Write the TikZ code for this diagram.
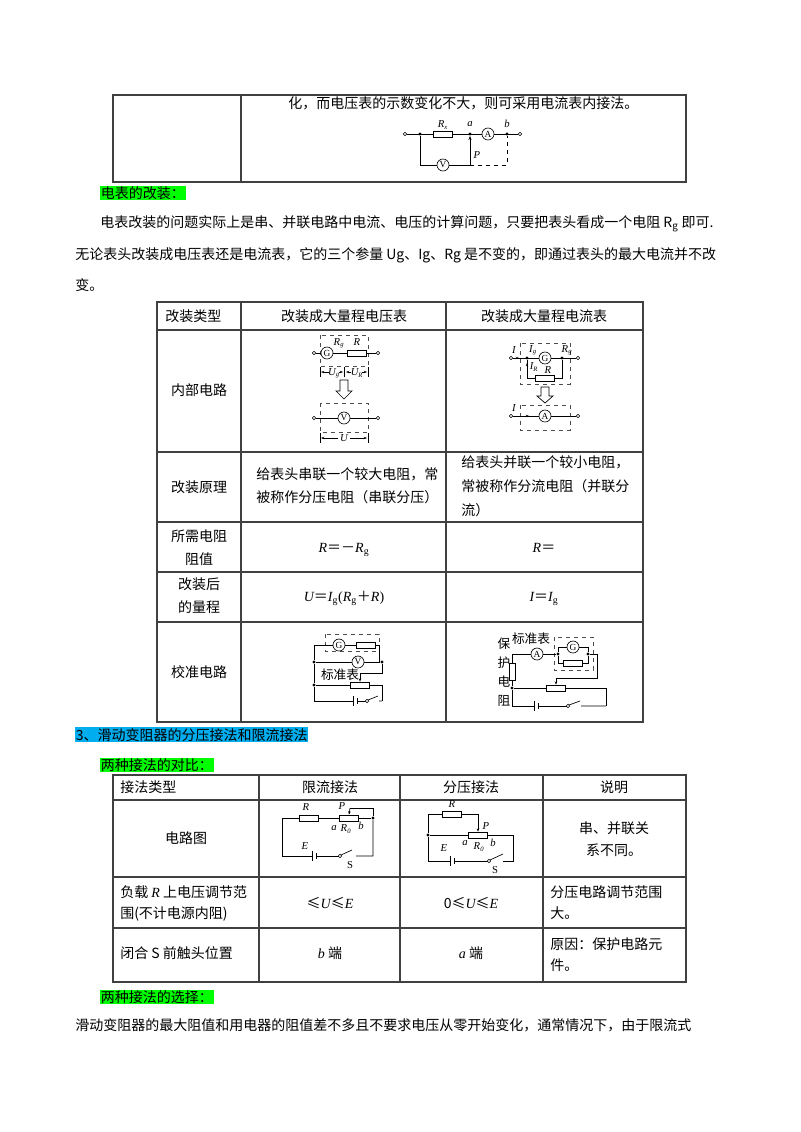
\documentclass[tikz,border=0pt]{standalone}
\usepackage{fontspec}
\setmainfont{Liberation Serif}
\newfontfamily\cjk{Noto Sans CJK SC}
\usetikzlibrary{arrows.meta}
\newcommand\zh{\cjk\fontsize{10.5}{13}\selectfont}
\newcommand\iv[1]{{\rmfamily\itshape #1}}
\newcommand\fw[1]{{\cjk #1}}
\begin{document}
\begin{tikzpicture}[x=0.75pt,y=-0.75pt,
  txt/.style={inner sep=0,font=\zh,anchor=base},
  ltxt/.style={inner sep=0,font=\zh,anchor=base west},
  grid/.style={line width=0.8pt,draw=black!75},
  res/.style={draw,rectangle,minimum width=14pt,minimum height=4.5pt,inner sep=0,line width=0.5pt},
  vres/.style={draw,rectangle,minimum width=4.5pt,minimum height=13pt,inner sep=0,line width=0.5pt},
  meter/.style={draw,circle,minimum size=9pt,inner sep=0,font=\fontsize{7}{7}\selectfont,line width=0.5pt},
  term/.style={draw,circle,minimum size=2.5pt,inner sep=0,fill=white,line width=0.4pt},
  jdot/.style={circle,fill,minimum size=2.5pt,inner sep=0},
  lab/.style={inner sep=0,font=\fontsize{8}{8}\selectfont\itshape},
  w/.style={line width=0.5pt},
  dbox/.style={draw,dashed,line width=0.4pt,black!70},
  hl/.style={inner sep=0.5pt,anchor=base west,font=\zh}
]
\useasboundingbox (0,0) rectangle (800,1132);
\fill[white] (0,0) rectangle (800,1132);

% ===== top table =====
\draw[grid] (113,95) rectangle (686,182);
\draw[grid] (241,95) -- (241,182);
\node[ltxt] (t0) at (288,108) {化，而电压表的示数变化不大，则可采用电流表内接法。};
\node[term] (ta) at (405,134) {};
\node[jdot] (tj1) at (420,134) {};
\node[res] (trx) at (443,134) {};
\node[lab] at (443,125) {R\textsubscript{\fontsize{5}{5}\selectfont x}};
\node[jdot] (tja) at (470,134) {};
\node[lab] at (470,124) {a};
\node[meter] (tA) at (488,134) {A};
\node[lab] at (507,124) {b};
\node[jdot] (tjb) at (507,134) {};
\node[term] (tb) at (520,134) {};
\node[meter] (tV) at (443,165) {V};
\node[lab] at (477,155) {P};
\coordinate (tbl) at (420,165);
\coordinate (tbp) at (470,165);
\coordinate (tbr) at (507,165);
\draw[w] (ta) -- (trx) -- (tA) -- (tb);
\draw[w] (tj1) -- (tbl) -- (tV) -- (tbp);
\draw[w,-{Stealth[length=3pt]}] (tbp) -- (tja);
\draw[w,dashed] (tbp) -- (tbr) -- (tjb);

% ===== section heading =====
\node[hl,fill=green] at (100,198) {电表的改装：};
\node[ltxt] at (100,227) {电表改装的问题实际上是串、并联电路中电流、电压的计算问题，只要把表头看成一个电阻 R\textsubscript{g} 即可.};
\node[ltxt] at (75,259) {无论表头改装成电压表还是电流表，它的三个参量 Ug、Ig、Rg 是不变的，即通过表头的最大电流并不改};
\node[ltxt] at (75,290) {变。};

% ===== table 2 =====
\draw[grid] (157,302) rectangle (643,722);
\foreach \y in {330,452,522,572,622} \draw[grid] (157,\y) -- (643,\y);
\draw[grid] (241,302) -- (241,722);
\draw[grid] (446,302) -- (446,722);
\node[ltxt] at (165,321) {改装类型};
\node[txt] at (344,321) {改装成大量程电压表};
\node[txt] at (544,321) {改装成大量程电流表};
\node[txt] at (199,395) {内部电路};
\node[txt] at (199,492) {改装原理};
\node[ltxt] at (256,479) {给表头串联一个较大电阻，常};
\node[ltxt] at (256,502) {被称作分压电阻（串联分压）};
\node[ltxt] at (461,467) {给表头并联一个较小电阻，};
\node[ltxt] at (461,491) {常被称作分流电阻（并联分};
\node[ltxt] at (461,515) {流）};
\node[txt] at (199,541) {所需电阻};
\node[txt] at (199,564) {阻值};
\node[txt] at (344,552) {\rmfamily\iv{R}\fw{＝－}\iv{R}\textsubscript{g}};
\node[txt] at (544,552) {\rmfamily\iv{R}\fw{＝}};
\node[txt] at (199,589) {改装后};
\node[txt] at (199,612) {的量程};
\node[txt] at (344,601) {\rmfamily\iv{U}\fw{＝}\iv{I}\textsubscript{g}(\iv{R}\textsubscript{g}\fw{＋}\iv{R})};
\node[txt] at (544,601) {\rmfamily\iv{I}\fw{＝}\iv{I}\textsubscript{g}};
\node[txt] at (199,677) {校准电路};

% voltmeter conversion
\draw[dbox] (320,335) rectangle (368,366);
\node[term] (v1) at (314,353) {};
\node[meter] (vG) at (327,353) {G};
\node[res] (vR) at (357,353) {};
\node[term] (v2) at (378,353) {};
\draw[w] (v1) -- (vG) -- (vR) -- (v2);
\node[lab] at (339,343) {R\textsubscript{\fontsize{5}{5}\selectfont g}};
\node[lab] at (357,342) {R};
\draw[w,-{Stealth[length=2.5pt]}] (329,372) -- (321,372);
\node[lab] (vUg) at (334,373) {U\textsubscript{\fontsize{5}{5}\selectfont g}};
\draw[w,-{Stealth[length=2.5pt]}] (339,372) -- (343,372);
\draw[w,-{Stealth[length=2.5pt]}] (351,372) -- (346,372);
\node[lab] (vUR) at (357,373) {U\textsubscript{\fontsize{5}{5}\selectfont R}};
\draw[w,-{Stealth[length=2.5pt]}] (362,372) -- (367,372);
\draw[w] (320,367) -- (320,377) (344,367) -- (344,377) (368,367) -- (368,377);
\draw[w,fill=white] (340,380) -- (348,380) -- (348,391) -- (352,391) -- (344,399) -- (336,391) -- (340,391) -- cycle;
\draw[dbox] (320,403) rectangle (368,432);
\node[term] (v3) at (314,418) {};
\node[meter] (vV) at (344,418) {V};
\node[term] (v4) at (378,418) {};
\draw[w] (v3) -- (vV) -- (v4);
\draw[w] (320,433) -- (320,443) (368,433) -- (368,443);
\node[lab] (vU) at (344,438) {U};
\draw[w,-{Stealth[length=2.5pt]}] (338,438) -- (321,438);
\draw[w,-{Stealth[length=2.5pt]}] (350,438) -- (367,438);

% ammeter conversion
\draw[dbox] (520,343) rectangle (570,384);
\node[term] (a1) at (511,358) {};
\node[jdot] (aj1) at (527,358) {};
\node[meter] (aG) at (545,358) {G};
\node[jdot] (aj2) at (562,358) {};
\node[term] (a2) at (578,358) {};
\node[res] (aR) at (545,378) {};
\draw[w] (a1) -- (aG) -- (a2);
\draw[w] (aj1) -- (527,378) -- (aR) -- (562,378) -- (aj2);
\draw[w,-{Stealth[length=2.5pt]}] (515,358) -- (519,358);
\draw[w,-{Stealth[length=2.5pt]}] (527,370) -- (527,363);
\node[lab] at (514,350) {I};
\node[lab] at (533,350) {I\textsubscript{\fontsize{5}{5}\selectfont g}};
\node[lab] at (567,350) {R\textsubscript{\fontsize{5}{5}\selectfont g}};
\node[lab] at (534,367) {I\textsubscript{\fontsize{5}{5}\selectfont R}};
\node[lab] at (548,370) {R};
\draw[w,fill=white] (541,387) -- (549,387) -- (549,396) -- (553,396) -- (545,403) -- (537,396) -- (541,396) -- cycle;
\draw[dbox] (520,405) rectangle (570,430);
\node[term] (a3) at (511,416) {};
\node[meter] (aA) at (545,416) {A};
\node[term] (a4) at (578,416) {};
\draw[w] (a3) -- (aA) -- (a4);
\draw[w,-{Stealth[length=2.5pt]}] (524,416) -- (529,416);
\node[lab] at (514,408) {I};

% calibration (voltmeter)
\draw[dbox] (325,634) rectangle (379,651);
\node[meter] (cG) at (339,645) {G};
\node[res] (cR) at (366,645) {};
\coordinate (c1) at (314,645);
\coordinate (c2) at (379,645);
\node[jdot] (cj1) at (314,662) {};
\node[jdot] (cj2) at (382,662) {};
\node[meter] (cV) at (358,662) {V};
\node[jdot] (cj3) at (314,685) {};
\node[res] (crh) at (360,685) {};
\coordinate (c3) at (382,685);
\coordinate (c4) at (314,701);
\coordinate (c5) at (382,701);
\draw[w] (cj1) -- (c1) -- (cG) -- (cR) -- (c2) -- (c2|-cj2);
\draw[w] (cj1) -- (cV) -- (cj2);
\draw[w] (cj2) -- (382,673) -- (360,673);
\draw[w,-{Stealth[length=2.5pt]}] (360,673) -- (crh.north);
\draw[w] (cj1) -- (cj3) -- (crh) -- (c3) -- (c5);
\draw[w] (cj3) -- (c4) -- (353,701) (353,696) -- (353,706) (357,698) -- (357,704) (357,701) -- (366,701);
\node[term] (csw) at (367,701) {};
\draw[w] (368,700) -- (378,696) (379,701) -- (c5);
\node[txt,font=\cjk\fontsize{9.5}{10}\selectfont] at (340,679) {标准表};

% calibration (ammeter)
\node[txt,font=\cjk\fontsize{9.5}{10}\selectfont] at (504,648) {保};
\node[txt,font=\cjk\fontsize{9.5}{10}\selectfont] at (504,667) {护};
\node[txt,font=\cjk\fontsize{9.5}{10}\selectfont] at (504,686) {电};
\node[txt,font=\cjk\fontsize{9.5}{10}\selectfont] at (504,705) {阻};
\node[txt,font=\cjk\fontsize{9.5}{10}\selectfont] at (531,643) {标准表};
\node[vres] (dR) at (512,672) {};
\node[meter] (dA) at (537,654) {A};
\draw[dbox] (554,637) rectangle (593,670);
\node[jdot] (dj1) at (558,654) {};
\node[jdot] (dj2) at (588,654) {};
\node[meter] (dG) at (573,647) {G};
\node[res] (dR2) at (573,663) {};
\node[jdot] (dj3) at (512,688) {};
\node[res] (drh) at (556,688) {};
\draw[w] (dR.north) -- (512,654) -- (dA) -- (dj1);
\draw[w] (dj1) -- (558,647) -- (dG) -- (588,647) -- (dj2);
\draw[w] (dj1) -- (558,663) -- (dR2) -- (588,663) -- (dj2);
\draw[w] (dj2) -- (597,654) -- (597,678) -- (556,678);
\draw[w,-{Stealth[length=2.5pt]}] (556,678) -- (drh.north);
\draw[w] (dR.south) -- (dj3) -- (drh) -- (606,688) -- (606,706);
\draw[w] (dj3) -- (512,706) -- (534,706) (534,701) -- (534,711) (538,703) -- (538,709) (538,706) -- (567,706);
\node[term] (dsw) at (568,706) {};
\draw[w] (569,705) -- (580,701) (581,706) -- (606,706);

% ===== section 3 =====
\node[hl,fill=cyan] at (75,740) {3、滑动变阻器的分压接法和限流接法};
\node[hl,fill=green] at (100,770) {两种接法的对比：};

\draw[grid] (113,775) rectangle (686,982);
\foreach \y in {800,877,928} \draw[grid] (113,\y) -- (686,\y);
\foreach \x in {259,400,543} \draw[grid] (\x,775) -- (\x,982);
\node[ltxt] at (120,792) {接法类型};
\node[txt] at (330,792) {限流接法};
\node[txt] at (471,792) {分压接法};
\node[txt] at (614,792) {说明};
\node[txt] at (186,843) {电路图};
\node[txt] at (614,833) {串、并联关};
\node[txt] at (614,855) {系不同。};
\node[ltxt] at (120,897) {负载 \iv{R} 上电压调节范};
\node[ltxt] at (120,918) {围(不计电源内阻)};
\node[txt] at (330,908) {≤\iv{U}≤\iv{E}};
\node[txt] at (471,908) {0≤\iv{U}≤\iv{E}};
\node[ltxt] at (550,897) {分压电路调节范围};
\node[ltxt] at (550,918) {大。};
\node[ltxt] at (120,958) {闭合 S 前触头位置};
\node[txt] at (330,958) {\iv{b} 端};
\node[txt] at (471,958) {\iv{a} 端};
\node[ltxt] at (550,949) {原因：保护电路元};
\node[ltxt] at (550,970) {件。};

% limiting circuit
\node[res] (lR) at (309,818) {};
\node[res] (lR0) at (349,818) {};
\node[jdot] (lj) at (373,818) {};
\draw[w] (lR0.east) -- (lj);
\draw[w] (lR) -- (lR0);
\draw[w] (lR.west) -- (282,818) -- (282,856) -- (312,856) (312,851) -- (312,861) (316,853) -- (316,859) (316,856) -- (339,856);
\node[term] (lsw) at (340,856) {};
\draw[w] (341,855) -- (352,850) (356,856) -- (373,856) -- (lj);
\draw[w] (lj) -- (373,808) -- (350,808);
\draw[w,-{Stealth[length=2.5pt]}] (350,808) -- (lR0.north);
\node[lab] at (306,807) {R};
\node[lab] at (342,806) {P};
\node[lab] at (334,828) {a};
\node[lab] at (346,829) {R\textsubscript{\fontsize{5}{5}\selectfont 0}};
\node[lab] at (361,826) {b};
\node[lab] at (305,846) {E};
\node[inner sep=0,font=\fontsize{8}{8}\selectfont] at (350,865) {S};

% divider circuit
\node[res] (pR) at (452,814) {};
\node[res] (pR0) at (478,835) {};
\node[jdot] (pj) at (428,835) {};
\draw[w] (pR.west) -- (428,814) -- (pj);
\draw[w] (pR.east) -- (478,814);
\draw[w,-{Stealth[length=2.5pt]}] (478,814) -- (pR0.north);
\draw[w] (pj) -- (pR0) -- (513,835) -- (513,861) -- (503,861);
\draw[w] (pj) -- (428,861) -- (450,861) (450,856) -- (450,866) (454,858) -- (454,864) (454,861) -- (488,861);
\node[term] (psw) at (489,861) {};
\draw[w] (490,860) -- (503,854);
\node[lab] at (452,804) {R};
\node[lab] at (486,826) {P};
\node[lab] at (465,843) {a};
\node[lab] at (479,847) {R\textsubscript{\fontsize{5}{5}\selectfont 0}};
\node[lab] at (493,843) {b};
\node[lab] at (444,848) {E};
\node[inner sep=0,font=\fontsize{8}{8}\selectfont] at (495,870) {S};

\node[hl,fill=green] at (100,1002) {两种接法的选择：};
\node[ltxt] at (75,1030) {滑动变阻器的最大阻值和用电器的阻值差不多且不要求电压从零开始变化，通常情况下，由于限流式};
\end{tikzpicture}
\end{document}
